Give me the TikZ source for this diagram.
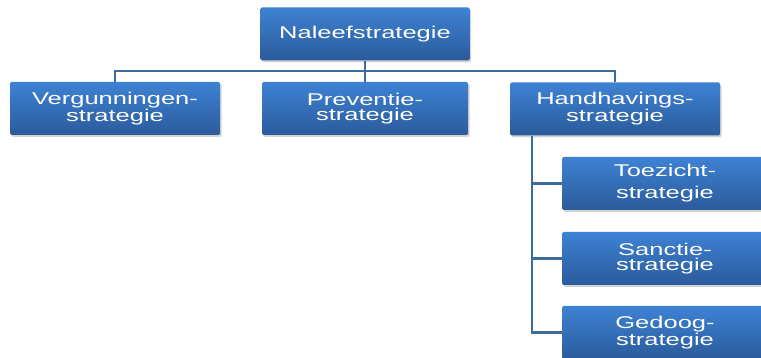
\documentclass[tikz,border=0pt]{standalone}
\usepackage{graphicx}
\usepackage{fontspec}
\setmainfont{Liberation Sans}
\usetikzlibrary{shadows}
\newcommand{\sx}[1]{\scalebox{1.5}[1]{#1}}
\definecolor{boxtop}{HTML}{3E82D4}
\definecolor{boxbot}{HTML}{2B5B9B}
\definecolor{linec}{HTML}{3D6B9C}
\tikzset{
  orgbox/.style={rectangle, rounded corners=1.5pt, top color=boxtop, bottom color=boxbot,
    minimum height=53pt, inner sep=0pt, align=center, text=white,
    font=\fontsize{17}{15.5}\selectfont,
    drop shadow={opacity=0.35, shadow xshift=1.5pt, shadow yshift=-2pt}},
  conn/.style={draw=linec, line width=2.6pt}
}
\begin{document}
\begin{tikzpicture}[x=1pt,y=1pt]
\useasboundingbox (0,0) rectangle (761,-358);
\node[orgbox, minimum width=209pt] (nal) at (365,-34) {\sx{Naleefstrategie}};
\node[orgbox, minimum width=210pt] (verg) at (115,-108.5) {\sx{Vergunningen-}\\\sx{strategie}};
\node[orgbox, minimum width=206pt] (prev) at (365,-108.5) {\sx{Preventie-}\\\sx{strategie}};
\node[orgbox, minimum width=210pt] (hand) at (615,-109) {\sx{Handhavings-}\\\sx{strategie}};
\node[orgbox, minimum width=206pt, font=\fontsize{17}{22}\selectfont] (toez) at (665,-183.5) {\sx{Toezicht-}\\\sx{strategie}};
\node[orgbox, minimum width=206pt] (sanc) at (665,-258.5) {\sx{Sanctie-}\\\sx{strategie}};
\node[orgbox, minimum width=206pt] (gedo) at (665,-332.5) {\sx{Gedoog-}\\\sx{strategie}};
\coordinate (bus) at (0,-71);
\draw[conn] (nal.south) -- (prev.north);
\draw[conn] (verg.north) -- (verg.north |- bus) -- (hand.north |- bus) -- (hand.north);
\coordinate (trunk) at ([xshift=22pt]hand.south west);
\draw[conn] (trunk) |- (gedo.west);
\draw[conn] (trunk) |- (toez.west);
\draw[conn] (trunk) |- (sanc.west);
\end{tikzpicture}
\end{document}
